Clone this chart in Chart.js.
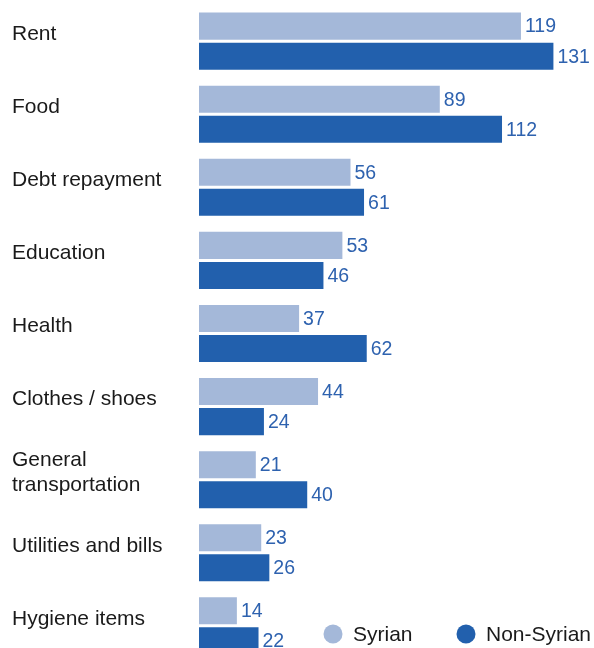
<!DOCTYPE html>
<html>
<head>
<meta charset="utf-8">
<script src="https://cdn.jsdelivr.net/npm/chart.js@4/dist/chart.umd.min.js"></script>
<style>
  html, body { margin: 0; padding: 0; background: #ffffff; }
  #wrap { position: relative; width: 594px; height: 648px; overflow: hidden; }
  #c { display: block; position: absolute; left: 0; top: -8px; }
</style>
</head>
<body>
<div id="wrap"><canvas id="c" width="594" height="683"></canvas></div>
<script>
// Spending categories (top to bottom)
const categories = [
  "Rent",
  "Food",
  "Debt repayment",
  "Education",
  "Health",
  "Clothes / shoes",
  ["General", "transportation"],
  "Utilities and bills",
  "Hygiene items"
];
const syrian    = [119, 89, 56, 53, 37, 44, 21, 23, 14];
const nonSyrian = [131, 112, 61, 46, 62, 24, 40, 26, 22];
const seriesNames = ["Syrian", "Non-Syrian"];

const LIGHT = "#A4B8D9";
const DARK = "#2260AD";
const VALUE_COLOR = "#2E62AF";
const FONT = "'Liberation Sans', Arial, sans-serif";
const CANVAS_SHIFT = 8; // canvas sits 8px above the visible frame

// Value printed just past the end of each bar
const valueLabels = {
  id: "valueLabels",
  afterDatasetsDraw(chart) {
    const ctx = chart.ctx;
    ctx.save();
    ctx.font = "19.5px " + FONT;
    ctx.fillStyle = VALUE_COLOR;
    ctx.textAlign = "left";
    ctx.textBaseline = "middle";
    chart.data.datasets.forEach((ds, di) => {
      const meta = chart.getDatasetMeta(di);
      meta.data.forEach((bar, i) => {
        ctx.fillText(String(ds.data[i]), bar.x + 4, bar.y + 1);
      });
    });
    ctx.restore();
  }
};

// Round-marker legend in the lower right corner
const dotLegend = {
  id: "dotLegend",
  afterDraw(chart) {
    const ctx = chart.ctx;
    const y = 634 + CANVAS_SHIFT;
    const items = [
      { x: 333, color: LIGHT, text: chart.data.datasets[0].label },
      { x: 466, color: DARK,  text: chart.data.datasets[1].label }
    ];
    ctx.save();
    ctx.font = "21px " + FONT;
    ctx.textAlign = "left";
    ctx.textBaseline = "middle";
    items.forEach(it => {
      ctx.beginPath();
      ctx.arc(it.x, y, 9.5, 0, Math.PI * 2);
      ctx.fillStyle = it.color;
      ctx.fill();
      ctx.fillStyle = "#1a1a1a";
      ctx.fillText(it.text, it.x + 20, y + 1);
    });
    ctx.restore();
  }
};

new Chart(document.getElementById("c"), {
  type: "bar",
  data: {
    labels: categories,
    datasets: [
      { label: seriesNames[0], data: syrian, backgroundColor: LIGHT },
      { label: seriesNames[1], data: nonSyrian, backgroundColor: DARK }
    ]
  },
  options: {
    indexAxis: "y",
    responsive: false,
    animation: false,
    devicePixelRatio: 1,
    layout: { padding: { left: 12, right: 0, top: 0, bottom: 0 } },
    datasets: { bar: { categoryPercentage: 0.822, barPercentage: 0.9 } },
    plugins: { legend: { display: false }, tooltip: { enabled: false } },
    scales: {
      x: {
        display: false,
        min: 0,
        max: 146
      },
      y: {
        grid: { display: false, drawTicks: false },
        border: { display: false },
        afterFit(scale) { scale.width = 187; },
        ticks: {
          crossAlign: "far",
          labelOffset: -7,
          padding: 0,
          color: "#1a1a1a",
          font: { family: FONT, size: 21, lineHeight: 1.2 }
        }
      }
    }
  },
  plugins: [valueLabels, dotLegend]
});
</script>
</body>
</html>
